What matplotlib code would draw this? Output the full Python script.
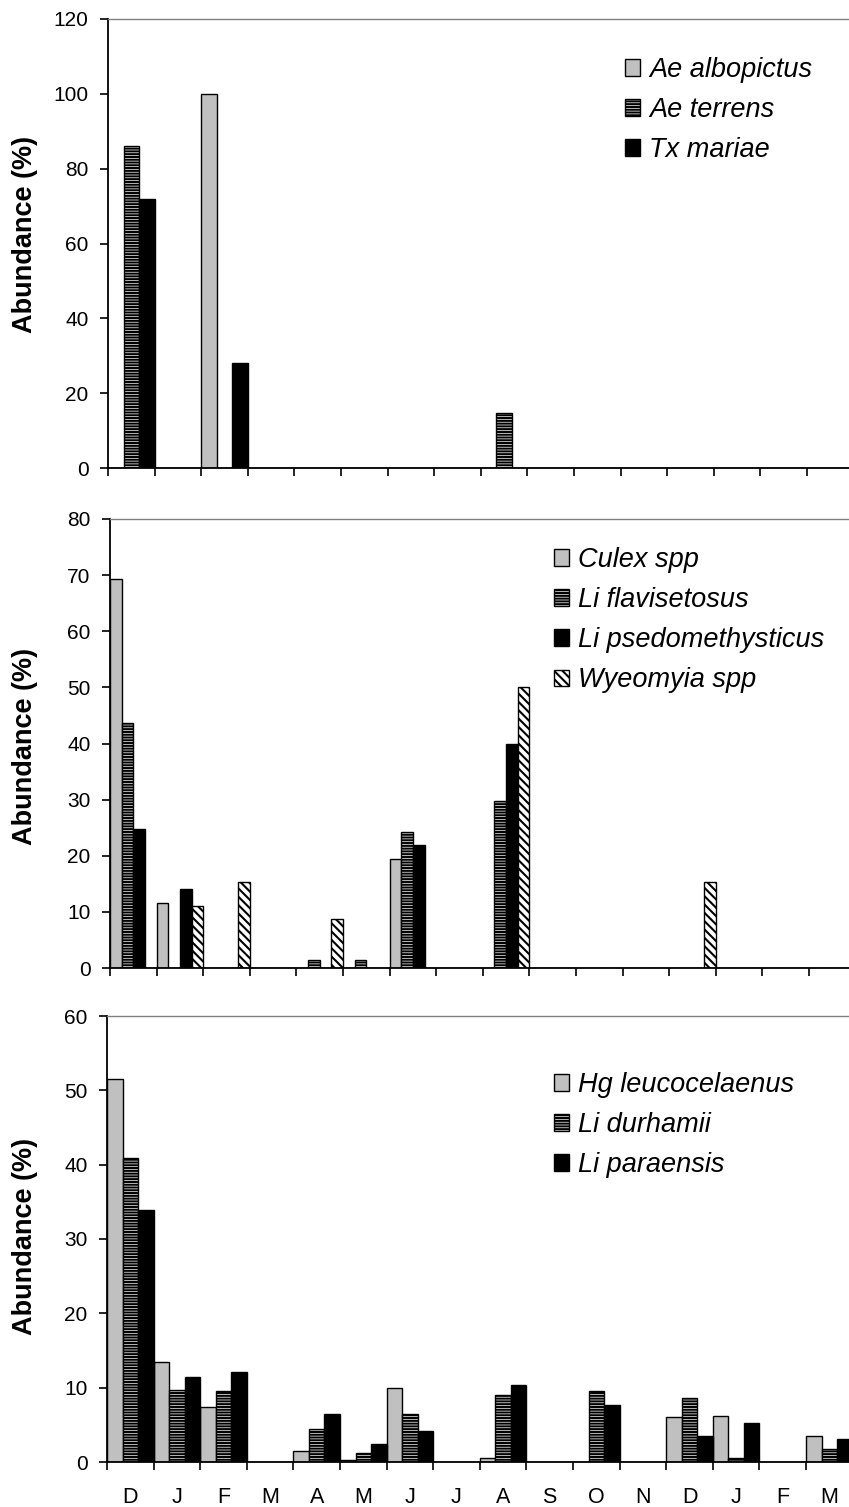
import matplotlib
matplotlib.use("Agg")
import matplotlib.pyplot as plt
import numpy as np

plt.rcParams['font.family'] = ['Liberation Sans', 'DejaVu Sans']
plt.rcParams['hatch.linewidth'] = 1.5

months = ['D', 'J', 'F', 'M', 'A', 'M', 'J', 'J', 'A', 'S', 'O', 'N', 'D', 'J', 'F', 'M']

# Panel 1
p1_labels = ['Ae albopictus', 'Ae terrens', 'Tx mariae']
ae_albopictus = [0, 0, 100, 0, 0, 0, 0, 0, 0, 0, 0, 0, 0, 0, 0, 0]
ae_terrens = [86, 0, 0, 0, 0, 0, 0, 0, 14.8, 0, 0, 0, 0, 0, 0, 0]
tx_mariae = [72, 0, 28, 0, 0, 0, 0, 0, 0, 0, 0, 0, 0, 0, 0, 0]

# Panel 2
p2_labels = ['Culex spp', 'Li flavisetosus', 'Li psedomethysticus', 'Wyeomyia spp']
culex_spp = [69.3, 11.6, 0, 0, 0, 0, 19.4, 0, 0, 0, 0, 0, 0, 0, 0, 0]
li_flavisetosus = [43.7, 0, 0, 0, 1.5, 1.5, 24.3, 0, 29.7, 0, 0, 0, 0, 0, 0, 0]
li_psedomethysticus = [24.8, 14.0, 0, 0, 0, 0, 21.9, 0, 39.9, 0, 0, 0, 0, 0, 0, 0]
wyeomyia_spp = [0, 11.0, 15.4, 0, 8.8, 0, 0, 0, 50, 0, 0, 0, 15.4, 0, 0, 0]

# Panel 3
p3_labels = ['Hg leucocelaenus', 'Li durhamii', 'Li paraensis']
hg_leucocelaenus = [51.5, 13.5, 7.4, 0, 1.5, 0.3, 9.9, 0, 0.6, 0, 0, 0, 6.1, 6.2, 0, 3.5]
li_durhamii = [40.9, 9.7, 9.5, 0, 4.4, 1.2, 6.5, 0, 9.0, 0, 9.5, 0, 8.6, 0.6, 0, 1.7]
li_paraensis = [33.9, 11.4, 12.1, 0, 6.4, 2.4, 4.2, 0, 10.3, 0, 7.7, 0, 3.5, 5.3, 0, 3.1]

W, H = 849, 1507
fig = plt.figure(figsize=(W / 100, H / 100), dpi=100)

styles = {
    'gray': dict(facecolor='#C0C0C0', hatch=None),
    'hlines': dict(facecolor='white', hatch='------'),
    'black': dict(facecolor='black', hatch=None),
    'diag': dict(facecolor='white', hatch='\\\\\\\\'),
}

cat_w = 46.6
axes_w = 16 * cat_w


def make_panel(left_px, top_px, bottom_px, series, labels, style_keys, ymax, ystep,
               legend_xy, show_months, ylabel_y):
    ax = fig.add_axes([left_px / W, (H - bottom_px) / H, axes_w / W, (bottom_px - top_px) / H])
    n = len(series)
    x = np.arange(len(months))
    bw = 1.0 / n
    for i, (vals, key) in enumerate(zip(series, style_keys)):
        st = styles[key]
        ax.bar(x - 0.5 + bw * (i + 0.5), vals, width=bw, facecolor=st['facecolor'],
               edgecolor='black', linewidth=1.0, hatch=st['hatch'], label=labels[i])
    ax.set_xlim(-0.5, len(months) - 0.5)
    ax.set_ylim(0, ymax)
    ax.set_yticks(np.arange(0, ymax + 0.1, ystep))
    ax.set_xticks(np.arange(-0.5, len(months) + 0.5, 1.0))
    ax.set_xticklabels([])
    ax.tick_params(axis='both', which='major', direction='out', length=6, width=1.2,
                   colors='black', labelsize=15, pad=8)
    if show_months:
        ax.set_xticks(x, minor=True)
        ax.set_xticklabels(months, minor=True, fontsize=15.5)
        ax.tick_params(axis='x', which='minor', length=0, pad=18)
    for s in ['left', 'bottom']:
        ax.spines[s].set_linewidth(1.3)
        ax.spines[s].set_color('black')
    ax.spines['top'].set_color('#808080')
    ax.spines['top'].set_linewidth(1.0)
    ax.spines['right'].set_visible(False)
    ax.legend(loc='upper left', bbox_to_anchor=(legend_xy[0] / W, 1 - legend_xy[1] / H),
              bbox_transform=fig.transFigure, frameon=False,
              prop=dict(family='Liberation Sans', style='italic', size=19.5),
              handlelength=0.55, handleheight=0.55, handletextpad=0.35,
              labelspacing=0.52, borderpad=0, borderaxespad=0)
    fig.text(25 / W, 1 - ylabel_y / H, 'Abundance (%)', rotation=90, ha='center', va='center',
             fontsize=19.5, fontweight='bold')
    return ax


make_panel(108, 19, 468, [ae_albopictus, ae_terrens, tx_mariae], p1_labels,
           ['gray', 'hlines', 'black'], 120, 20, (625, 57), False, 234)
make_panel(110, 519, 968, [culex_spp, li_flavisetosus, li_psedomethysticus, wyeomyia_spp], p2_labels,
           ['gray', 'hlines', 'black', 'diag'], 80, 10, (554, 547), False, 746)
make_panel(107, 1016, 1462, [hg_leucocelaenus, li_durhamii, li_paraensis], p3_labels,
           ['gray', 'hlines', 'black'], 60, 10, (554, 1072), True, 1236)

fig.savefig('out.png', dpi=100)
